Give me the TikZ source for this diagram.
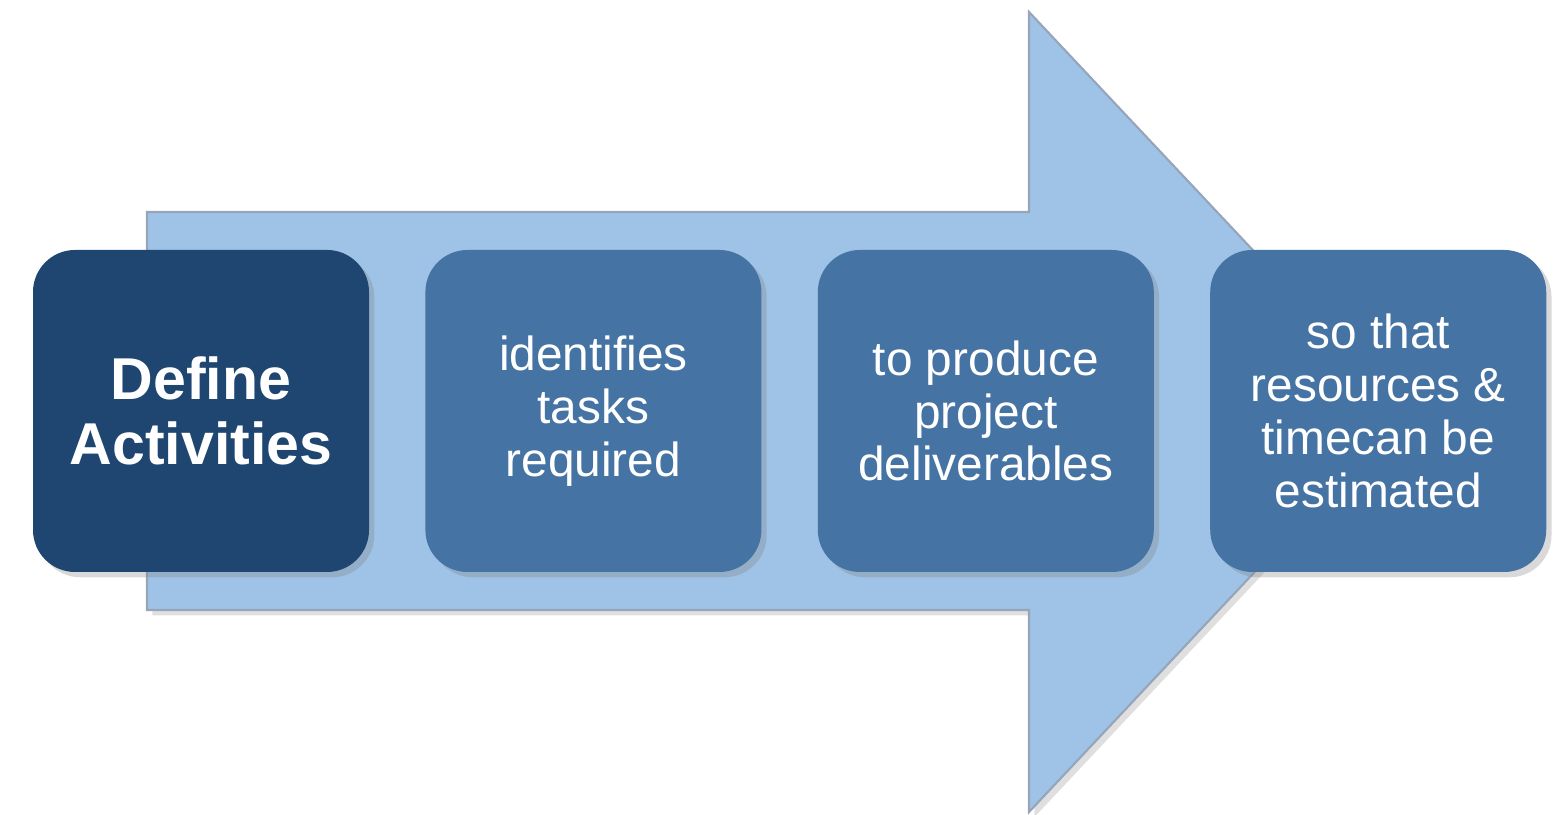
\documentclass[tikz,border=0pt]{standalone}
\usepackage{fontspec}
\setmainfont{Liberation Sans}
\usetikzlibrary{positioning,shadows}
\definecolor{ArrowBlue}{RGB}{159, 194, 231}
\definecolor{ArrowEdge}{RGB}{150, 165, 185}
\definecolor{DarkBox}{RGB}{30, 70, 112}
\definecolor{MidBox}{RGB}{69, 115, 163}
\newcommand{\stepbox}[4]{
    \node(#1)[
        fill=#2,
        text=white,
        rounded corners=0.42cm,
        minimum width=3.36cm,
        minimum height=3.22cm,
        inner sep=0pt,
        align=center,
        drop shadow={shadow xshift=1.5pt, shadow yshift=-1.5pt, opacity=0.3},
        #3
    ]{#4};
}

\begin{document}
\begin{tikzpicture}
	\useasboundingbox (0,0) rectangle (15.54,8.15);

	% big arrow behind the steps
	\draw[fill=ArrowBlue, draw=ArrowEdge, line width=0.6pt,
	drop shadow={shadow xshift=1.5pt, shadow yshift=-1.5pt, opacity=0.25}]
	(1.47,2.05) -- (10.29,2.05) -- (10.29,0.03) -- (14.05,4.03)
	-- (10.29,8.03) -- (10.29,6.03) -- (1.47,6.03) -- cycle;

	\stepbox{define}{DarkBox}{at={(2.01,4.04)}, font=\bfseries\fontsize{16.8}{18.5}\selectfont}{Define\\Activities}
	\stepbox{tasks}{MidBox}{right=0.55cm of define, font=\fontsize{13.6}{15}\selectfont}{identifies\\tasks\\required}
	\stepbox{deliv}{MidBox}{right=0.55cm of tasks, font=\fontsize{13.6}{15}\selectfont}{to produce\\project\\deliverables}
	\stepbox{estim}{MidBox}{right=0.55cm of deliv, font=\fontsize{13.6}{15}\selectfont}{so that\\resources \&\\timecan be\\estimated}
\end{tikzpicture}
\end{document}
